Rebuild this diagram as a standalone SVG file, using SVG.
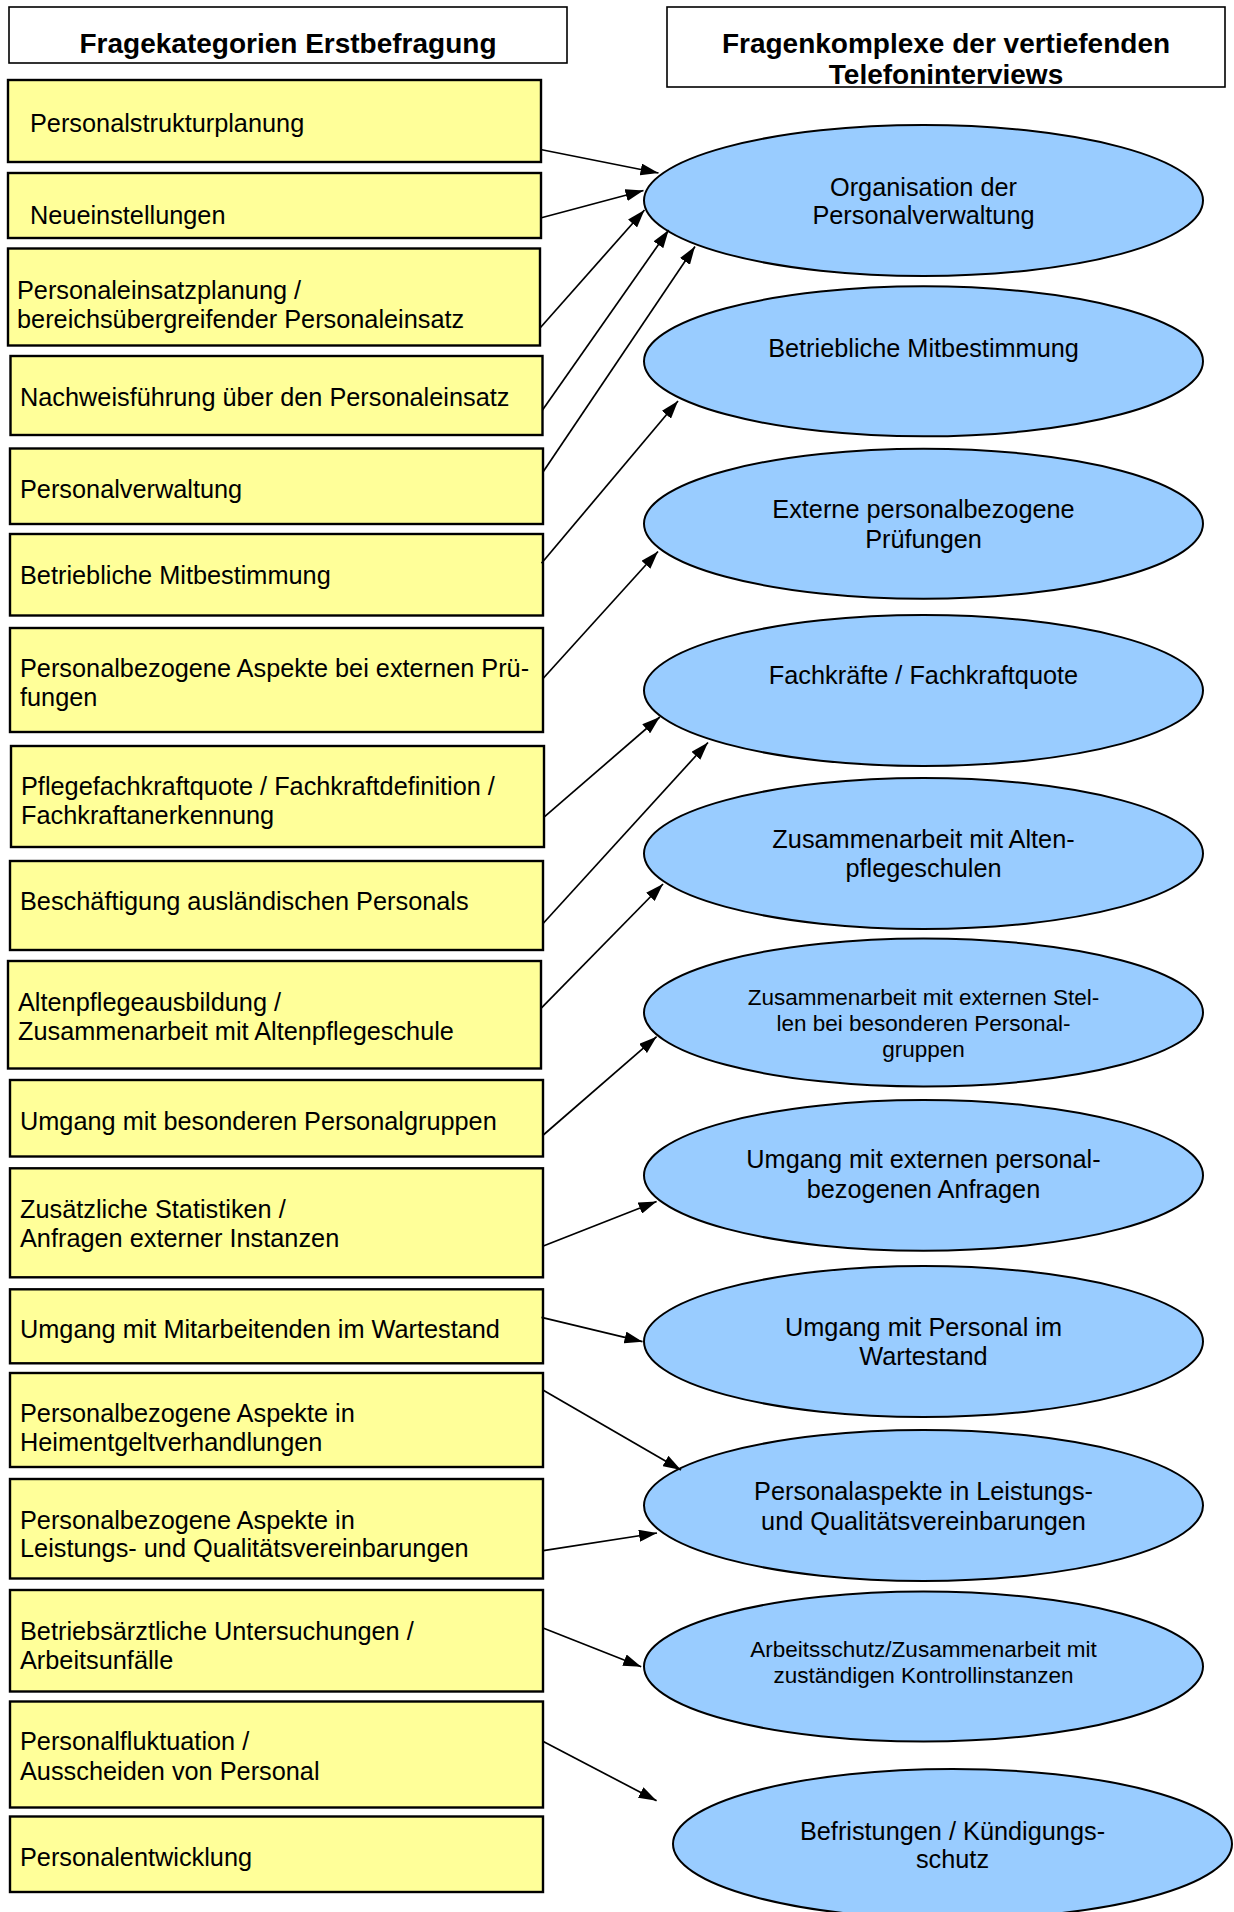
<svg xmlns="http://www.w3.org/2000/svg" width="1234" height="1912" viewBox="0 0 1234 1912">
<defs>
<marker id="ah" viewBox="0 0 18 12" refX="18" refY="6" markerWidth="18" markerHeight="12" markerUnits="userSpaceOnUse" orient="auto"><path d="M0,0 L18,6 L0,12 z" fill="#000"/></marker>
<style>
.hdr{fill:#fff;stroke:#000;stroke-width:1.6}
.ht{font-family:"Liberation Sans",Arial,sans-serif;font-weight:bold;font-size:28px;text-anchor:middle;fill:#000}
.box{fill:#ffff99;stroke:#000;stroke-width:2.4}
.bt{font-family:"Liberation Sans",Arial,sans-serif;font-size:25.3px;fill:#000}
.ell{fill:#99ccff;stroke:#000;stroke-width:2}
.et{font-family:"Liberation Sans",Arial,sans-serif;font-size:25.3px;text-anchor:middle;fill:#000}
.es{font-family:"Liberation Sans",Arial,sans-serif;font-size:22.5px;text-anchor:middle;fill:#000}
.con line{stroke:#000;stroke-width:1.7;marker-end:url(#ah)}
</style>
</defs>
<rect width="1234" height="1912" fill="#fff"/>

<g id="header-left"><rect class="hdr" x="9" y="7" width="558" height="56"/><text class="ht" x="288" y="53">Fragekategorien Erstbefragung</text></g>
<g id="header-right"><rect class="hdr" x="667" y="7" width="558" height="80"/><text class="ht" x="946" y="53">Fragenkomplexe der vertiefenden</text><text class="ht" x="946" y="84">Telefoninterviews</text></g>

<g id="b1"><rect class="box" x="8" y="80" width="533" height="82"/><text class="bt" x="30" y="132">Personalstrukturplanung</text></g>
<g id="b2"><rect class="box" x="8" y="173" width="533" height="65"/><text class="bt" x="30" y="223.5">Neueinstellungen</text></g>
<g id="b3"><rect class="box" x="8" y="248.5" width="532" height="97"/><text class="bt" x="17" y="298.5">Personaleinsatzplanung /</text><text class="bt" x="17" y="327.5">bereichsübergreifender Personaleinsatz</text></g>
<g id="b4"><rect class="box" x="10.5" y="356" width="532" height="79"/><text class="bt" x="20" y="405.5">Nachweisführung über den Personaleinsatz</text></g>
<g id="b5"><rect class="box" x="10" y="448.5" width="533" height="75.5"/><text class="bt" x="20" y="497.5">Personalverwaltung</text></g>
<g id="b6"><rect class="box" x="10" y="534" width="533" height="81.5"/><text class="bt" x="20" y="583.5">Betriebliche Mitbestimmung</text></g>
<g id="b7"><rect class="box" x="10" y="628" width="533" height="104"/><text class="bt" x="20" y="677">Personalbezogene Aspekte bei externen Prü-</text><text class="bt" x="20" y="705.5">fungen</text></g>
<g id="b8"><rect class="box" x="11" y="746" width="533" height="101"/><text class="bt" x="21" y="795">Pflegefachkraftquote / Fachkraftdefinition /</text><text class="bt" x="21" y="824">Fachkraftanerkennung</text></g>
<g id="b9"><rect class="box" x="10" y="861" width="533" height="89"/><text class="bt" x="20" y="909.5">Beschäftigung ausländischen Personals</text></g>
<g id="b10"><rect class="box" x="8" y="961" width="533" height="107.5"/><text class="bt" x="18" y="1010.7">Altenpflegeausbildung /</text><text class="bt" x="18" y="1039.5">Zusammenarbeit mit Altenpflegeschule</text></g>
<g id="b11"><rect class="box" x="10" y="1080" width="533" height="76.5"/><text class="bt" x="20" y="1129.5">Umgang mit besonderen Personalgruppen</text></g>
<g id="b12"><rect class="box" x="10" y="1168.3" width="533" height="109"/><text class="bt" x="20" y="1217.5">Zusätzliche Statistiken /</text><text class="bt" x="20" y="1247">Anfragen externer Instanzen</text></g>
<g id="b13"><rect class="box" x="10" y="1289.3" width="533" height="74"/><text class="bt" x="20" y="1338.3">Umgang mit Mitarbeitenden im Wartestand</text></g>
<g id="b14"><rect class="box" x="10" y="1373" width="533" height="94"/><text class="bt" x="20" y="1422">Personalbezogene Aspekte in</text><text class="bt" x="20" y="1451">Heimentgeltverhandlungen</text></g>
<g id="b15"><rect class="box" x="10" y="1479" width="533" height="99.5"/><text class="bt" x="20" y="1528.5">Personalbezogene Aspekte in</text><text class="bt" x="20" y="1557">Leistungs- und Qualitätsvereinbarungen</text></g>
<g id="b16"><rect class="box" x="10" y="1590" width="533" height="101.5"/><text class="bt" x="20" y="1639.7">Betriebsärztliche Untersuchungen /</text><text class="bt" x="20" y="1668.5">Arbeitsunfälle</text></g>
<g id="b17"><rect class="box" x="10" y="1701.5" width="533" height="106"/><text class="bt" x="20" y="1750">Personalfluktuation /</text><text class="bt" x="20" y="1779.5">Ausscheiden von Personal</text></g>
<g id="b18"><rect class="box" x="10" y="1816.5" width="533" height="75.5"/><text class="bt" x="20" y="1865.5">Personalentwicklung</text></g>

<g id="e1"><ellipse class="ell" cx="923.5" cy="200.5" rx="279.5" ry="75.5"/><text class="et" x="923.5" y="196">Organisation der</text><text class="et" x="923.5" y="224">Personalverwaltung</text></g>
<g id="e2"><ellipse class="ell" cx="923.5" cy="361.3" rx="279.5" ry="75"/><text class="et" x="923.5" y="356.7">Betriebliche Mitbestimmung</text></g>
<g id="e3"><ellipse class="ell" cx="923.5" cy="523.7" rx="279.5" ry="75"/><text class="et" x="923.5" y="518.3">Externe personalbezogene</text><text class="et" x="923.5" y="547.7">Prüfungen</text></g>
<g id="e4"><ellipse class="ell" cx="923.5" cy="690.5" rx="279.5" ry="75.5"/><text class="et" x="923.5" y="684.3">Fachkräfte / Fachkraftquote</text></g>
<g id="e5"><ellipse class="ell" cx="923.5" cy="853.5" rx="279.5" ry="75.5"/><text class="et" x="923.5" y="847.7">Zusammenarbeit mit Alten-</text><text class="et" x="923.5" y="877.3">pflegeschulen</text></g>
<g id="e6"><ellipse class="ell" cx="923.5" cy="1012.5" rx="279.5" ry="74"/><text class="es" x="923.5" y="1005">Zusammenarbeit mit externen Stel-</text><text class="es" x="923.5" y="1030.5">len bei besonderen Personal-</text><text class="es" x="923.5" y="1056.5">gruppen</text></g>
<g id="e7"><ellipse class="ell" cx="923.5" cy="1175.4" rx="279.5" ry="75.3"/><text class="et" x="923.5" y="1168.3">Umgang mit externen personal-</text><text class="et" x="923.5" y="1198.3">bezogenen Anfragen</text></g>
<g id="e8"><ellipse class="ell" cx="923.5" cy="1341.5" rx="279.5" ry="75.5"/><text class="et" x="923.5" y="1336">Umgang mit Personal im</text><text class="et" x="923.5" y="1365">Wartestand</text></g>
<g id="e9"><ellipse class="ell" cx="923.5" cy="1505.5" rx="279.5" ry="75.5"/><text class="et" x="923.5" y="1500">Personalaspekte in Leistungs-</text><text class="et" x="923.5" y="1529.5">und Qualitätsvereinbarungen</text></g>
<g id="e10"><ellipse class="ell" cx="923.5" cy="1666.5" rx="279.5" ry="75"/><text class="es" x="923.5" y="1657">Arbeitsschutz/Zusammenarbeit mit</text><text class="es" x="923.5" y="1683">zuständigen Kontrollinstanzen</text></g>
<g id="e11"><ellipse class="ell" cx="952.5" cy="1844" rx="279.5" ry="75"/><text class="et" x="952.5" y="1840">Befristungen / Kündigungs-</text><text class="et" x="952.5" y="1868">schutz</text></g>

<g id="connectors" class="con">
<line x1="540.5" y1="149.5" x2="658.5" y2="173"/>
<line x1="540.5" y1="218" x2="643.5" y2="190.5"/>
<line x1="540.5" y1="327.5" x2="644.5" y2="210"/>
<line x1="542.5" y1="410" x2="668.7" y2="230"/>
<line x1="543" y1="472" x2="695" y2="246.5"/>
<line x1="541.5" y1="563.3" x2="678" y2="401"/>
<line x1="543.3" y1="678.3" x2="658" y2="551.5"/>
<line x1="544.6" y1="816.7" x2="659.8" y2="717"/>
<line x1="543.3" y1="923.3" x2="708" y2="742.5"/>
<line x1="541" y1="1008.3" x2="663" y2="884"/>
<line x1="543.3" y1="1135" x2="656.6" y2="1036.7"/>
<line x1="543.3" y1="1246" x2="656.6" y2="1201.5"/>
<line x1="541.5" y1="1317.3" x2="642.5" y2="1341.7"/>
<line x1="543.3" y1="1390.2" x2="681" y2="1470"/>
<line x1="543.3" y1="1550.7" x2="657" y2="1533"/>
<line x1="542.4" y1="1627.7" x2="641.2" y2="1666.7"/>
<line x1="543.3" y1="1741.4" x2="656.6" y2="1800.8"/>
</g>
</svg>
